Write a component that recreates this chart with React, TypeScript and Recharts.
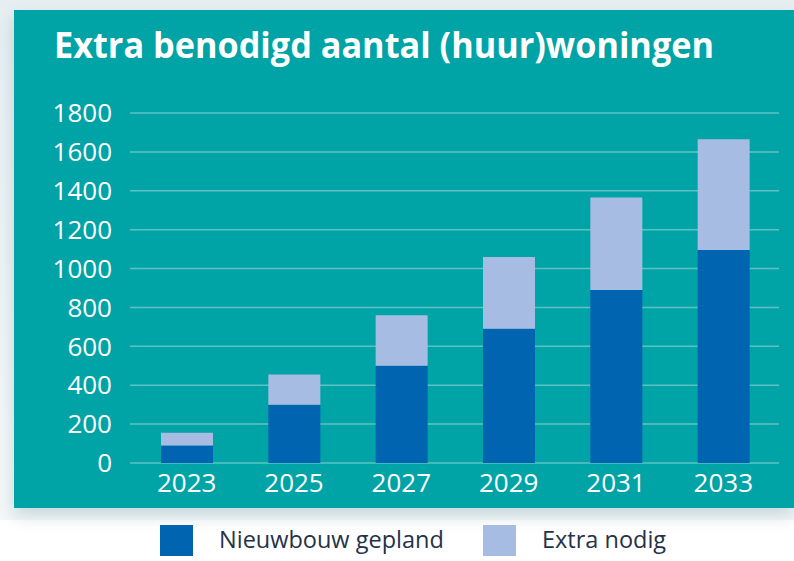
import { BarChart, Bar, XAxis, YAxis, CartesianGrid, Legend } from "recharts";

const jaren = ["2023", "2025", "2027", "2029", "2031", "2033"];
const nieuwbouwGepland = [90, 300, 500, 690, 890, 1095];
const extraNodig = [65, 155, 260, 370, 475, 570];
const yTicks = [0, 200, 400, 600, 800, 1000, 1200, 1400, 1600, 1800];
const legendaVolgorde = ["nieuwbouw", "extra"];

const data = jaren.map((jaar, i) => ({
    jaar,
    nieuwbouw: nieuwbouwGepland[i],
    extra: extraNodig[i],
}));

const TEAL = "#00A3A6";
const DONKER = "#0064B1";
const LICHT = "#A7BCE3";

function LegendItems(props: any) {
    const items = [...(props.payload || [])].sort(
        (a: any, b: any) => legendaVolgorde.indexOf(a.dataKey) - legendaVolgorde.indexOf(b.dataKey)
    );
    return (
        <div style={{ display: "flex", paddingLeft: 160, height: 40, alignItems: "center" }}>
            {items.map((it: any, i: number) => (
                <div key={i} style={{ display: "flex", alignItems: "center", width: i === 0 ? 323 : 250, whiteSpace: "nowrap" }}>
                    <span style={{ width: 33, height: 31, background: it.color, display: "inline-block", flexShrink: 0 }} />
                    <span style={{ marginLeft: 26, fontSize: 23.5, color: "#243249", fontFamily: "Open Sans", position: "relative", top: -1 }}>
                        {it.value}
                    </span>
                </div>
            ))}
        </div>
    );
}

export default function App() {
    return (
        <div style={{ position: "absolute", left: 0, top: 0, width: 794, height: 561, background: "#fff", overflow: "hidden", fontFamily: "Open Sans" }}>
            <div style={{ position: "absolute", left: 0, top: 0, width: 794, height: 520, background: "linear-gradient(#E6EEF1, #F4F8F9)" }} />
            <div
                style={{
                    position: "absolute",
                    left: 14,
                    top: 10,
                    width: 780,
                    height: 498,
                    background: TEAL,
                    boxShadow: "0 8px 16px rgba(0,70,90,0.18)",
                }}
            />
            <svg width={794} height={90} style={{ position: "absolute", left: 0, top: 0 }}>
                <text x={54} y={58} fill="#fff" fontSize={35} fontWeight={700} fontFamily="Open Sans" textLength={660} lengthAdjust="spacingAndGlyphs">
                    Extra benodigd aantal (huur)woningen
                </text>
            </svg>
            <BarChart
                width={794}
                height={561}
                data={data}
                style={{ position: "absolute", left: 0, top: 0 }}
                margin={{ top: 113, right: 15, left: 0, bottom: 28 }}
            >
                <CartesianGrid vertical={false} stroke="#5FC2C2" strokeWidth={1.5} />
                <XAxis
                    dataKey="jaar"
                    axisLine={false}
                    tickLine={false}
                    tickSize={0}
                    tickMargin={11}
                    height={30}
                    padding={{ left: 3, right: 2 }}
                    tick={{ fill: "#fff", fontSize: 26, fontWeight: 500 }}
                />
                <YAxis
                    width={130}
                    domain={[0, 1800]}
                    ticks={yTicks}
                    interval={0}
                    axisLine={false}
                    tickLine={false}
                    tickSize={0}
                    tickMargin={18}
                    tick={{ fill: "#fff", fontSize: 26, fontWeight: 500 }}
                />
                <Legend
                    verticalAlign="bottom"
                    content={<LegendItems />}
                    wrapperStyle={{ top: 520, left: 0, bottom: "auto", width: 794, height: 40 }}
                />
                <Bar dataKey="nieuwbouw" name="Nieuwbouw gepland" stackId="a" fill={DONKER} barSize={52} isAnimationActive={false} />
                <Bar dataKey="extra" name="Extra nodig" stackId="a" fill={LICHT} barSize={52} isAnimationActive={false} />
            </BarChart>
        </div>
    );
}
